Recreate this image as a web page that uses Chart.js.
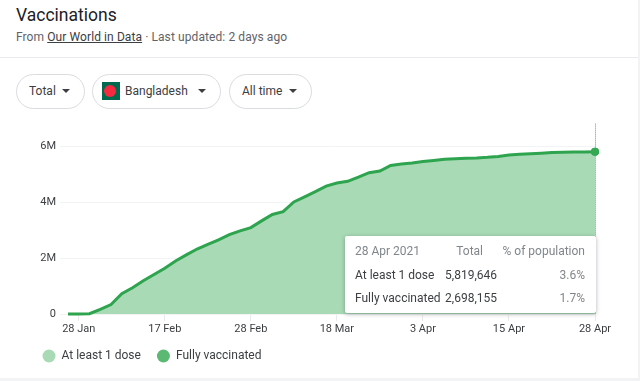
<!DOCTYPE html>
<html>
<head>
<meta charset="utf-8">
<title>Vaccinations</title>
<script src="https://cdn.jsdelivr.net/npm/chart.js@4"></script>
<style>
html, body { margin: 0; padding: 0; background: #fff; }
body { width: 640px; height: 381px; position: relative; overflow: hidden; font-family: Roboto, sans-serif; color: #3c4043; }
.abs { position: absolute; white-space: nowrap; }
#title { left: 16px; top: 4px; font-size: 17.5px; line-height: 22px; color: #202124; }
#source { left: 16px; top: 29px; font-size: 12px; letter-spacing: .09px; line-height: 16px; color: #5f6368; }
#source u { color: #3c4043; }
#rule { left: 0; top: 57px; width: 640px; height: 1px; background: #e8eaed; }
#edgeR { left: 638px; top: 0; width: 2px; height: 381px; background: #f1f3f4; }
#edgeB { left: 0; top: 378px; width: 640px; height: 3px; background: #f1f3f4; }
.chip { top: 74px; height: 33px; border: 1px solid #dadce0; border-radius: 18px; font-size: 12px; line-height: 33px; color: #3c4043; }
.chip span { position: absolute; }
.arrow { position: absolute; top: 14px; width: 0; height: 0; border-left: 4.5px solid transparent; border-right: 4.5px solid transparent; border-top: 4.5px solid #3c4043; }
#flag { position: absolute; left: 9px; top: 7px; width: 18px; height: 18px; background: #006a4e; }
#flag i { position: absolute; left: 2px; top: 3px; width: 12px; height: 12px; border-radius: 50%; background: #f42a41; }
canvas { position: absolute; left: 0; top: 113px; }
#tip { left: 345px; top: 236px; width: 251px; height: 77px; background: #fff; border-radius: 2px; box-shadow: 0 1px 4px rgba(60,64,67,.4); font-size: 12px; line-height: 16px; }
#tip span { position: absolute; white-space: nowrap; }
.grey { color: #80868b; }
</style>
</head>
<body>
<div class="abs" id="title">Vaccinations</div>
<div class="abs" id="source">From <u>Our World in Data</u> · Last updated: 2 days ago</div>
<div class="abs" id="rule"></div>
<div class="abs" id="edgeR"></div>
<div class="abs" id="edgeB"></div>

<div class="abs chip" style="left:16px;width:67px"><span style="left:12px">Total</span><div class="arrow" style="left:45px"></div></div>
<div class="abs chip" style="left:92px;width:127px"><div id="flag"><i></i></div><span style="left:32px">Bangladesh</span><div class="arrow" style="left:105px"></div></div>
<div class="abs chip" style="left:229px;width:81px"><span style="left:12px">All time</span><div class="arrow" style="left:59px"></div></div>

<canvas id="graph" width="640" height="267"></canvas>
<div class="abs" id="tip"></div>

<script>
const categories = ['', '28 Jan', '', '', '', '', '', '', '', '17 Feb', '', '', '', '', '', '', '', '28 Feb', '', '', '', '', '', '', '', '18 Mar', '', '', '', '', '', '', '', '3 Apr', '', '', '', '', '', '', '', '15 Apr', '', '', '', '', '', '', '', '28 Apr']
const atLeastOneDose = [0, 0, 0.01, 0.17, 0.34, 0.73, 0.94, 1.19, 1.42, 1.64,
    1.90, 2.12, 2.33, 2.50, 2.66, 2.85, 2.98, 3.10, 3.34, 3.57,
    3.67, 4.02, 4.20, 4.39, 4.59, 4.70, 4.76, 4.91, 5.07, 5.13,
    5.33, 5.38, 5.42, 5.47, 5.51, 5.55, 5.57, 5.59, 5.60, 5.62,
    5.65, 5.70, 5.73, 5.75, 5.77, 5.79, 5.80, 5.81, 5.815, 5.82]
const yTicks = [0, 2, 4, 6]
const yMax = 6.83
const seriesNames = ['At least 1 dose', 'Fully vaccinated']
const legendColors = ['#a8dab5', '#5bb974']
const tipHeader = ['28 Apr 2021', 'Total', '% of population']
const tipTotals = ['5,819,646', '2,698,155']
const tipPercents = ['3.6%', '1.7%']

// tooltip box, plain html so the text stays selectable
const tip = document.getElementById('tip')
function addTip(text, left, right, top, cls){
    const s = document.createElement('span')
    s.textContent = text
    if(left !== null) s.style.left = left + 'px'
    if(right !== null) s.style.right = right + 'px'
    s.style.top = top + 'px'
    if(cls) s.className = cls
    tip.appendChild(s)
}
addTip(tipHeader[0], 10, null, 7, 'grey')
addTip(tipHeader[1], null, 113, 7, 'grey')
addTip(tipHeader[2], null, 11, 7, 'grey')
for(let i = 0; i < seriesNames.length; i++){
    const top = 31 + i * 23
    addTip(seriesNames[i], 10, null, top)
    addTip(tipTotals[i], null, 99, top)
    addTip(tipPercents[i], null, 11, top, 'grey')
}

// dotted hover line at the last point
const hoverLine = {
    id: 'hoverLine',
    afterDatasetsDraw(chart){
        const x = chart.scales.x.getPixelForValue(categories.length - 1)
        const ctx = chart.ctx
        ctx.save()
        ctx.strokeStyle = '#80868b'
        ctx.lineWidth = 1
        ctx.setLineDash([1, 1])
        ctx.beginPath()
        ctx.moveTo(Math.round(x) + 0.5, chart.chartArea.top)
        ctx.lineTo(Math.round(x) + 0.5, chart.chartArea.bottom)
        ctx.stroke()
        ctx.restore()
        chart.getDatasetMeta(0).data[categories.length - 1].draw(ctx)
    }
}

new Chart(document.getElementById('graph'), {
    type: 'line',
    data: {
        labels: categories,
        datasets: [{
            label: seriesNames[0],
            data: atLeastOneDose,
            borderColor: '#2ea44f',
            backgroundColor: '#a8dab5',
            borderWidth: 3,
            fill: 'origin',
            tension: 0,
            clip: false,
            pointRadius: ctx => ctx.dataIndex === categories.length - 1 ? 4 : 0,
            pointBackgroundColor: '#34a853',
            pointBorderWidth: 0
        }, {
            label: seriesNames[1],
            data: [],
            borderColor: legendColors[1],
            backgroundColor: legendColors[1]
        }]
    },
    options: {
        responsive: false,
        animation: false,
        layout: { padding: { left: 26.5, right: 45, top: 5, bottom: 8 } },
        plugins: {
            tooltip: { enabled: false },
            legend: {
                position: 'bottom',
                align: 'start',
                labels: {
                    usePointStyle: true,
                    pointStyle: 'circle',
                    pointStyleWidth: 13,
                    boxWidth: 12,
                    boxHeight: 9.2,
                    padding: 16,
                    font: { family: 'Roboto', size: 12 },
                    generateLabels: chart => seriesNames.map((name, i) => ({
                        text: name,
                        fillStyle: legendColors[i],
                        strokeStyle: legendColors[i],
                        fontColor: '#3c4043',
                        lineWidth: 0,
                        pointStyle: 'circle',
                        datasetIndex: i
                    }))
                }
            }
        },
        scales: {
            x: {
                type: 'category',
                offset: false,
                border: { display: false },
                grid: { drawOnChartArea: false, drawTicks: true, tickLength: 7, tickColor: '#e8eaed' },
                ticks: {
                    autoSkip: false,
                    maxRotation: 0,
                    padding: 2,
                    color: '#3c4043',
                    font: { family: 'Roboto', size: 11 },
                    callback: (v) => categories[v] || null
                },
                afterFit: s => { s.height = 20 }
            },
            y: {
                min: 0,
                max: yMax,
                border: { display: false },
                grid: { color: '#f1f3f4', tickLength: 8, tickColor: '#f1f3f4' },
                ticks: {
                    padding: 4,
                    color: '#3c4043',
                    font: { family: 'Roboto', size: 11 },
                    callback: v => v === 0 ? '0' : v + 'M'
                },
                afterBuildTicks: s => { s.ticks = yTicks.map(v => ({ value: v })) },
                afterFit: s => { s.width = 41.5 }
            }
        }
    },
    plugins: [hoverLine]
})
</script>
</body>
</html>
